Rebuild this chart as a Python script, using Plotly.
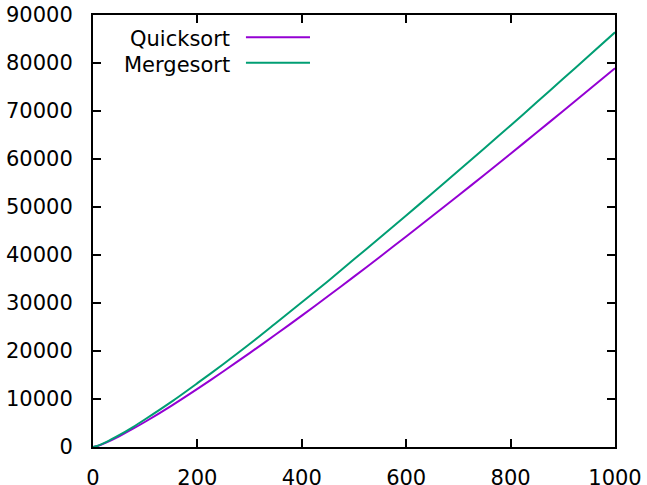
import plotly.graph_objects as go

n = [0, 10, 25, 50, 75, 100, 150, 200, 250, 300, 350, 400, 450, 500,
     550, 600, 650, 700, 750, 800, 850, 900, 950, 1000]
quicksort = [0, 260, 920, 2235, 3700, 5260, 8580, 12110, 15780, 19560, 23430, 27380, 31400, 35490,
             39650, 43860, 48120, 52400, 56730, 61100, 65510, 69960, 74430, 78900]
mergesort = [0, 290, 1000, 2450, 4050, 5780, 9400, 13300, 17300, 21450, 25800, 30150, 34550, 39100,
             43650, 48250, 52850, 57550, 62250, 67000, 71800, 76650, 81500, 86400]
names = ["Quicksort", "Mergesort"]
colors = ["#9400d3", "#009e73"]
x_ticks = [0, 200, 400, 600, 800, 1000]
y_ticks = [0, 10000, 20000, 30000, 40000, 50000, 60000, 70000, 80000, 90000]

FONT = "DejaVu Sans"
FS = 21
fig = go.Figure()
for name, ys, c in zip(names, [quicksort, mergesort], colors):
    fig.add_trace(go.Scatter(x=n, y=ys, mode="lines", name=name,
                             line=dict(color=c, width=2, shape="spline", smoothing=0.8),
                             showlegend=False, hoverinfo="skip"))

# gnuplot-style key: text right-aligned, sample line to the right
key_y = [0.9484, 0.8896]
for name, c, yy in zip(names, colors, key_y):
    fig.add_annotation(x=0.2625, y=yy, xref="paper", yref="paper", text=name,
                       showarrow=False, xanchor="right", yanchor="middle",
                       xshift=2, yshift=-2, font=dict(family=FONT, size=FS, color="black"))
    fig.add_shape(type="line", xref="paper", yref="paper", x0=0.293, x1=0.4157,
                  y0=yy, y1=yy, line=dict(color=c, width=2))

axis_common = dict(showgrid=False, zeroline=False, showline=True, linecolor="black",
                   linewidth=2, mirror="ticks", ticks="inside", ticklen=8,
                   tickwidth=2, tickcolor="black", automargin=False,
                   tickfont=dict(family=FONT, size=FS, color="black"))
fig.update_xaxes(range=[0, 1000], tickvals=x_ticks, ticktext=[str(v) for v in x_ticks],
                 ticklabelstandoff=11, **axis_common)
fig.update_yaxes(range=[0, 90000], tickvals=y_ticks, ticktext=[str(v) for v in y_ticks],
                 ticklabelstandoff=14, **axis_common)
fig.update_layout(width=647, height=485, margin=dict(l=93, r=32, t=15, b=38),
                  plot_bgcolor="white", paper_bgcolor="white",
                  font=dict(family=FONT, color="black"))
fig.write_html("out.html", config={"displayModeBar": False},
               post_script="document.body.style.margin='0';document.body.style.overflow='hidden';")
